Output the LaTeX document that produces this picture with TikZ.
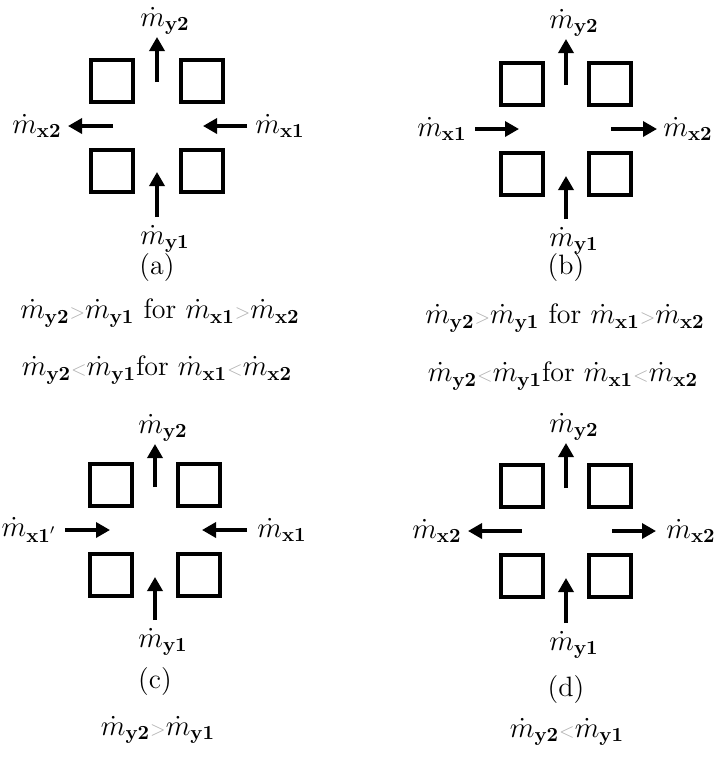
\documentclass[tikz,border=0pt]{standalone}
\usepackage{tikz}
\usetikzlibrary{arrows.meta}

\tikzset{
  blk/.style={draw, line width=2pt, minimum size=21pt, inner sep=0pt},
  flow/.style={line width=1.7pt, -{Triangle[length=7pt,width=7.5pt]}},
  lbl/.style={inner sep=1pt},
  capt/.style={inner sep=0pt}
}
\newcommand{\gsign}{\textcolor{gray!60}{\scriptstyle >}}
\newcommand{\lsign}{\textcolor{gray!60}{\scriptstyle <}}

\begin{document}
\begin{tikzpicture}[x=0.5pt, y=-0.5pt, font=\fontsize{14}{17}\selectfont]

\useasboundingbox (0,0) rectangle (716,757);

% (a) both side flows to the left
\begin{scope}[shift={(157,126)}]
\node[blk] (a-tl) at (-45,-45) {};
\node[blk] (a-tr) at (45,-45) {};
\node[blk] (a-bl) at (-45,45) {};
\node[blk] (a-br) at (45,45) {};
\coordinate (a-ti) at (0,-44); \coordinate (a-to) at (0,-89);
\coordinate (a-bi) at (0,46);  \coordinate (a-bo) at (0,91);
\coordinate (a-li) at (-44,0); \coordinate (a-lo) at (-89,0);
\coordinate (a-ri) at (46,0);  \coordinate (a-ro) at (90,0);
\draw[flow] (a-ti) -- (a-to);
\draw[flow] (a-bo) -- (a-bi);
\draw[flow] (a-li) -- (a-lo);
\draw[flow] (a-ro) -- (a-ri);
\node[lbl, anchor=south, xshift=4pt] (a-my2) at (a-to) {$\dot m_{\mathbf{y2}}$};
\node[lbl, anchor=north, xshift=4pt, yshift=-3pt] (a-my1) at (a-bo) {$\dot m_{\mathbf{y1}}$};
\node[lbl, anchor=east, xshift=-2pt] (a-mx2) at (a-lo) {$\dot m_{\mathbf{x2}}$};
\node[lbl, anchor=west, xshift=3pt] (a-mx1) at (a-ro) {$\dot m_{\mathbf{x1}}$};
\node[capt] (a-cap) at (0,142) {(a)};
\end{scope}
\node (a-txt1) at (160,313) {$\dot m_{\mathbf{y2}}\gsign\dot m_{\mathbf{y1}}$ for $\dot m_{\mathbf{x1}}\gsign\dot m_{\mathbf{x2}}$};
\node (a-txt2) at (157,370) {$\dot m_{\mathbf{y2}}\lsign\dot m_{\mathbf{y1}}$for $\dot m_{\mathbf{x1}}\lsign\dot m_{\mathbf{x2}}$};

% (b) both side flows to the right
\begin{scope}[shift={(566,129)}]
\node[blk] (b-tl) at (-44,-45) {};
\node[blk] (b-tr) at (44,-45) {};
\node[blk] (b-bl) at (-44,45) {};
\node[blk] (b-br) at (44,45) {};
\coordinate (b-ti) at (0,-44); \coordinate (b-to) at (0,-90);
\coordinate (b-bi) at (0,47);  \coordinate (b-bo) at (0,90);
\coordinate (b-li) at (-47,0); \coordinate (b-lo) at (-91,0);
\coordinate (b-ri) at (45,0);  \coordinate (b-ro) at (91,0);
\draw[flow] (b-ti) -- (b-to);
\draw[flow] (b-bo) -- (b-bi);
\draw[flow] (b-lo) -- (b-li);
\draw[flow] (b-ri) -- (b-ro);
\node[lbl, anchor=south, xshift=4pt] (b-my2) at (b-to) {$\dot m_{\mathbf{y2}}$};
\node[lbl, anchor=north, xshift=4pt, yshift=-3pt] (b-my1) at (b-bo) {$\dot m_{\mathbf{y1}}$};
\node[lbl, anchor=east, xshift=-3pt] (b-mx1) at (b-lo) {$\dot m_{\mathbf{x1}}$};
\node[lbl, anchor=west, xshift=2pt] (b-mx2) at (b-ro) {$\dot m_{\mathbf{x2}}$};
\node[capt] (b-cap) at (0,139) {(b)};
\end{scope}
\node (b-txt1) at (565,318) {$\dot m_{\mathbf{y2}}\gsign\dot m_{\mathbf{y1}}$ for $\dot m_{\mathbf{x1}}\gsign\dot m_{\mathbf{x2}}$};
\node (b-txt2) at (563,376) {$\dot m_{\mathbf{y2}}\lsign\dot m_{\mathbf{y1}}$for $\dot m_{\mathbf{x1}}\lsign\dot m_{\mathbf{x2}}$};

% (c) side flows meet in the middle
\begin{scope}[shift={(155,530)}]
\node[blk] (c-tl) at (-44,-45) {};
\node[blk] (c-tr) at (44,-45) {};
\node[blk] (c-bl) at (-44,45) {};
\node[blk] (c-br) at (44,45) {};
\coordinate (c-ti) at (0,-43); \coordinate (c-to) at (0,-86);
\coordinate (c-bi) at (0,47);  \coordinate (c-bo) at (0,90);
\coordinate (c-li) at (-45,0); \coordinate (c-lo) at (-90,0);
\coordinate (c-ri) at (47,0);  \coordinate (c-ro) at (92,0);
\draw[flow] (c-ti) -- (c-to);
\draw[flow] (c-bo) -- (c-bi);
\draw[flow] (c-lo) -- (c-li);
\draw[flow] (c-ro) -- (c-ri);
\node[lbl, anchor=south, xshift=4pt] (c-my2) at (c-to) {$\dot m_{\mathbf{y2}}$};
\node[lbl, anchor=north, xshift=4pt, yshift=-3pt] (c-my1) at (c-bo) {$\dot m_{\mathbf{y1}}$};
\node[lbl, anchor=east, xshift=-3pt] (c-mx1p) at (c-lo) {$\dot m_{\mathbf{x1}'}$};
\node[lbl, anchor=west, xshift=4pt] (c-mx1) at (c-ro) {$\dot m_{\mathbf{x1}}$};
\node[capt] (c-cap) at (0,152) {(c)};
\end{scope}
\node (c-txt) at (158,730) {$\dot m_{\mathbf{y2}}\gsign\dot m_{\mathbf{y1}}$};

% (d) side flows leave on both sides
\begin{scope}[shift={(566,531)}]
\node[blk] (d-tl) at (-44,-45) {};
\node[blk] (d-tr) at (44,-45) {};
\node[blk] (d-bl) at (-44,45) {};
\node[blk] (d-br) at (44,45) {};
\coordinate (d-ti) at (0,-43); \coordinate (d-to) at (0,-88);
\coordinate (d-bi) at (0,47);  \coordinate (d-bo) at (0,92);
\coordinate (d-li) at (-44,0); \coordinate (d-lo) at (-98,0);
\coordinate (d-ri) at (46,0);  \coordinate (d-ro) at (90,0);
\draw[flow] (d-ti) -- (d-to);
\draw[flow] (d-bo) -- (d-bi);
\draw[flow] (d-li) -- (d-lo);
\draw[flow] (d-ri) -- (d-ro);
\node[lbl, anchor=south, xshift=4pt] (d-my2) at (d-to) {$\dot m_{\mathbf{y2}}$};
\node[lbl, anchor=north, xshift=4pt, yshift=-3pt] (d-my1) at (d-bo) {$\dot m_{\mathbf{y1}}$};
\node[lbl, anchor=east, xshift=-2pt] (d-mx2l) at (d-lo) {$\dot m_{\mathbf{x2}}$};
\node[lbl, anchor=west, xshift=4pt] (d-mx2r) at (d-ro) {$\dot m_{\mathbf{x2}}$};
\node[capt] (d-cap) at (0,159) {(d)};
\end{scope}
\node (d-txt) at (567,732) {$\dot m_{\mathbf{y2}}\lsign\dot m_{\mathbf{y1}}$};

\end{tikzpicture}
\end{document}
